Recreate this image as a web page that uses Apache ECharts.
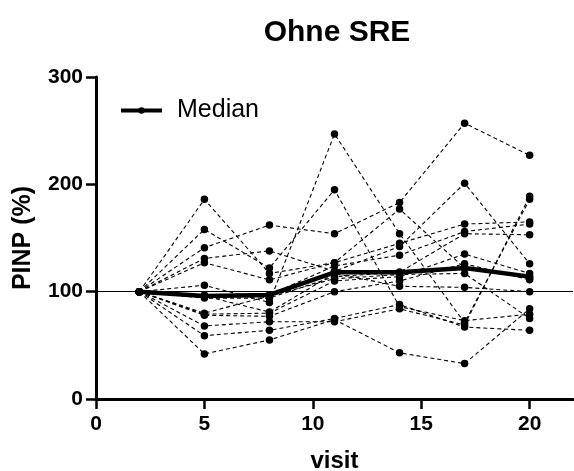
<!DOCTYPE html>
<html>
<head>
<meta charset="utf-8">
<script src="https://cdn.jsdelivr.net/npm/echarts@6/dist/echarts.min.js"></script>
<style>html,body{margin:0;padding:0;background:#fff}#c{width:574px;height:471px}</style>
</head>
<body>
<div id="c"></div>
<script>
const visits = [2, 5, 8, 11, 14, 17, 20];
const xTicks = [0, 5, 10, 15, 20];
const yTicks = [0, 100, 200, 300];
const patient01 = [100, 141, 162, 154, 183, 257, 227];
const patient02 = [100, 186, 117, 127, 145, 163, 165];
const patient03 = [100, 158, 122, 195, 86, 73, 79];
const patient04 = [100, 106, 90, 247, 154, 71, 186];
const patient05 = [100, 131, 138, 119, 142, 201, 126];
const patient06 = [100, 127, 111, 127, 177, 122, 113];
const patient07 = [100, 42, 55, 74, 43, 33, 84];
const patient08 = [100, 59, 64, 75, 88, 67, 64];
const patient09 = [100, 68, 72, 72, 84, 69, 189];
const patient10 = [100, 97, 97, 124, 134, 156, 163];
const patient11 = [100, 94, 94, 114, 118, 154, 153];
const patient12 = [100, 79, 80, 110, 114, 135, 117];
const patient13 = [100, 78, 77, 100, 110, 126, 111];
const patient14 = [100, 96, 81, 117, 105, 104, 100];
const patient15 = [100, 80, 96, 112, 116, 117, 75];
const median = [100, 96, 97, 118, 118, 122, 114];
const patients = [patient01, patient02, patient03, patient04, patient05, patient06, patient07,
  patient08, patient09, patient10, patient11, patient12, patient13, patient14, patient15];

const FONT = 'Liberation Sans, Arial, Helvetica, sans-serif';
const pair = arr => arr.map((v, i) => [visits[i], v]);

const series = patients.map((p, i) => ({
  type: 'line', name: 'P' + (i + 1), data: pair(p), silent: true,
  symbol: 'circle', symbolSize: 7.5, showAllSymbol: true,
  lineStyle: { color: '#000', width: 1.1, type: [4, 3] },
  itemStyle: { color: '#000' }, z: 2
}));
series.push({
  type: 'line', name: 'Median', data: pair(median), silent: true,
  symbol: 'circle', symbolSize: 7.5,
  lineStyle: { color: '#000', width: 4.5 },
  itemStyle: { color: '#000' }, z: 5,
  markLine: {
    silent: true, symbol: 'none', label: { show: false },
    lineStyle: { color: '#000', width: 1, type: 'solid' },
    data: [{ yAxis: 100 }], z: 1
  }
});

const chart = echarts.init(document.getElementById('c'), null, { renderer: 'canvas' });
chart.setOption({
  animation: false,
  backgroundColor: '#fff',
  title: {
    text: 'Ohne SRE', left: 332, top: 13, textAlign: 'center',
    textStyle: { fontFamily: FONT, fontWeight: 'bold', fontSize: 30, color: '#000' }
  },
  legend: {
    data: ['Median'], left: 119, top: 98, padding: 0, itemWidth: 41, itemHeight: 8, itemGap: 10,
    lineStyle: { width: 4 },
    textStyle: { fontFamily: FONT, fontSize: 25, color: '#000', padding: [0, 0, 0, 10] }
  },
  grid: { left: 96, right: 1, top: 77, bottom: 72, outerBoundsMode: 'none', containLabel: false },
  xAxis: {
    type: 'value', min: 0, max: 22, interval: 5,
    name: 'visit', nameLocation: 'middle', nameGap: 50,
    nameTextStyle: { fontFamily: FONT, fontWeight: 'bold', fontSize: 24, color: '#000' },
    axisLine: { lineStyle: { color: '#000', width: 3 } },
    axisTick: { show: true, inside: false, length: 10, lineStyle: { color: '#000', width: 2.5 }, customValues: xTicks },
    axisLabel: { fontFamily: FONT, fontWeight: 'bold', fontSize: 21, color: '#000', margin: 15, customValues: xTicks },
    splitLine: { show: false }
  },
  yAxis: {
    type: 'value', min: 0, max: 300, interval: 100,
    name: 'PINP (%)', nameLocation: 'middle', nameGap: 60, nameRotate: 90,
    nameTextStyle: { fontFamily: FONT, fontWeight: 'bold', fontSize: 25, color: '#000' },
    axisLine: { show: true, lineStyle: { color: '#000', width: 3 } },
    axisTick: { show: true, inside: false, length: 10, lineStyle: { color: '#000', width: 2.5 }, customValues: yTicks },
    axisLabel: { fontFamily: FONT, fontWeight: 'bold', fontSize: 21, color: '#000', margin: 13, customValues: yTicks },
    splitLine: { show: false }
  },
  series: series
});
</script>
</body>
</html>
